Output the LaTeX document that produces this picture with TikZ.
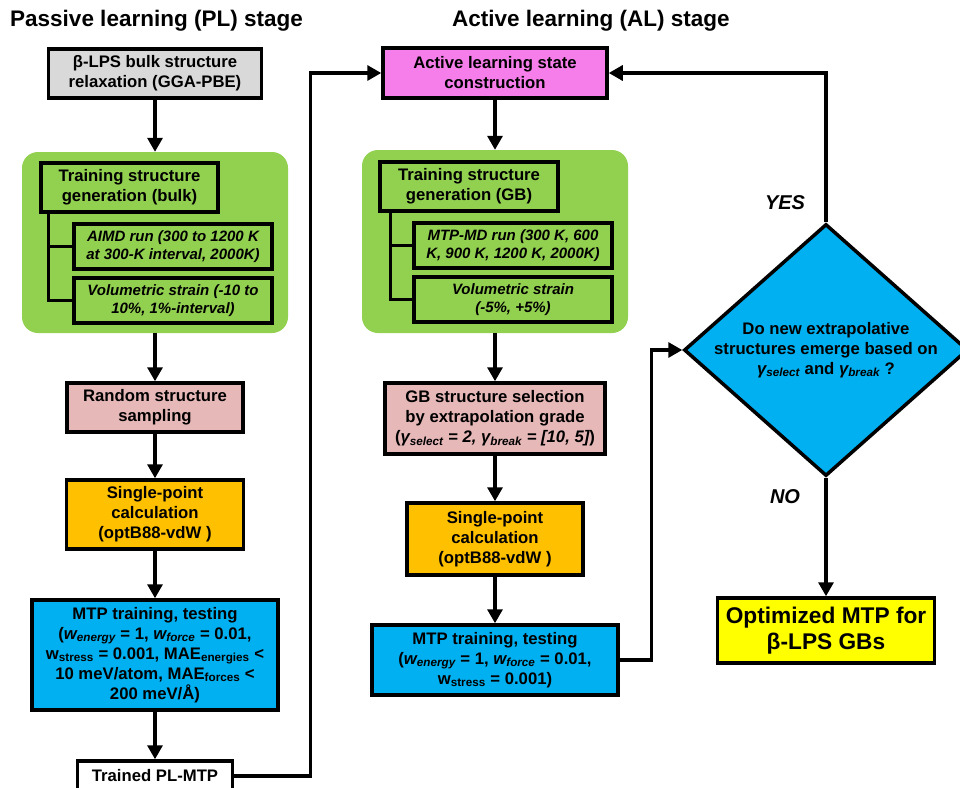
\documentclass[tikz,border=0pt]{standalone}
\usepackage{fontspec}
\setmainfont{Liberation Sans}
\usetikzlibrary{shapes.geometric,arrows.meta}

\definecolor{boxgray}{HTML}{D9D9D9}
\definecolor{boxgreen}{HTML}{92D050}
\definecolor{boxpink}{HTML}{E6B8B7}
\definecolor{boxorange}{HTML}{FFC000}
\definecolor{boxblue}{HTML}{00B0F0}
\definecolor{boxmagenta}{HTML}{F67EEA}
\definecolor{boxyellow}{HTML}{FFFF00}

\tikzset{
    stepbox/.style={draw, line width=3.5pt, align=center, inner sep=0pt, font=\bfseries\fontsize{16.7}{20}\selectfont},
    subbox/.style={draw, line width=3.5pt, align=center, inner sep=0pt, font=\bfseries\itshape\fontsize{15}{18}\selectfont},
    panel/.style={fill=boxgreen, rounded corners=16pt, inner sep=0pt},
    decision/.style={diamond, draw, line width=3.5pt, fill=boxblue, inner sep=0pt},
    stagetitle/.style={anchor=west, inner sep=0pt, font=\bfseries\fontsize{22.5}{26}\selectfont},
    answer/.style={inner sep=0pt, font=\bfseries\itshape\fontsize{20}{24}\selectfont},
    flow/.style={line width=3.2pt, -{Triangle[width=15pt,length=14pt]}},
    link/.style={line width=3.2pt},
}

\begin{document}
\begin{tikzpicture}[x=1pt, y=-1pt]
    \useasboundingbox (0,0) rectangle (960,787);
    \clip (0,0) rectangle (960,787);

    \node[stagetitle] (titlePL) at (10,21) {Passive learning (PL) stage};
    \node[stagetitle] (titleAL) at (452,21) {Active learning (AL) stage};

    \node[stepbox, fill=boxgray, minimum width=213pt, minimum height=49pt] (relax) at (155,73.5)
        {β-LPS bulk structure\\relaxation (GGA-PBE)};
    \node[panel, minimum width=266pt, minimum height=181pt] (panelPL) at (155,242.5) {};
    \node[stepbox, minimum width=177pt, minimum height=49pt] (genPL) at (129.5,187.5)
        {Training structure\\generation (bulk)};
    \node[subbox, minimum width=198pt, minimum height=45pt] (aimdPL) at (173,246.5)
        {AIMD run (300 to 1200 K\\at 300-K interval, 2000K)};
    \node[subbox, minimum width=198pt, minimum height=45pt] (volPL) at (173,300.5)
        {Volumetric strain (-10 to\\10\%, 1\%-interval)};
    \node[stepbox, fill=boxpink, minimum width=176pt, minimum height=49pt] (randPL) at (155,407.5)
        {Random structure\\sampling};
    \node[stepbox, fill=boxorange, minimum width=177pt, minimum height=69pt] (spPL) at (155,514.5)
        {Single-point\\calculation\\(optB88-vdW )};
    \node[stepbox, fill=boxblue, minimum width=246pt, minimum height=110pt] (mtpPL) at (155,655)
        {MTP training, testing\\({\itshape w\textsubscript{energy}} = 1, {\itshape w\textsubscript{force}} = 0.01,\\w\textsubscript{stress} = 0.001, MAE\textsubscript{energies} <\\10 meV/atom, MAE\textsubscript{forces} <\\200 meV/Å)};
    \node[stepbox, fill=white, minimum width=155pt, minimum height=30pt] (trained) at (155,776)
        {Trained PL-MTP};

    \node[stepbox, fill=boxmagenta, minimum width=224pt, minimum height=50pt] (alstate) at (495,73)
        {Active learning state\\construction};
    \node[panel, minimum width=266pt, minimum height=183pt] (panelAL) at (495,241.5) {};
    \node[stepbox, minimum width=178pt, minimum height=49pt] (genAL) at (469,186.5)
        {Training structure\\generation (GB)};
    \node[subbox, minimum width=198pt, minimum height=45pt] (mdAL) at (513,245.5)
        {MTP-MD run (300 K, 600\\K, 900 K, 1200 K, 2000K)};
    \node[subbox, minimum width=198pt, minimum height=45pt] (volAL) at (513,299.5)
        {Volumetric strain\\(-5\%, +5\%)};
    \node[stepbox, fill=boxpink, minimum width=220pt, minimum height=71pt] (selAL) at (495,418.5)
        {GB structure selection\\by extrapolation grade\\({\itshape γ\textsubscript{select} = 2, γ\textsubscript{break} = [10, 5]})};
    \node[stepbox, fill=boxorange, minimum width=176pt, minimum height=72pt] (spAL) at (495,539)
        {Single-point\\calculation\\(optB88-vdW )};
    \node[stepbox, fill=boxblue, minimum width=246pt, minimum height=70pt] (mtpAL) at (495,660)
        {MTP training, testing\\({\itshape w\textsubscript{energy}} = 1, {\itshape w\textsubscript{force}} = 0.01,\\w\textsubscript{stress} = 0.001)};

    \node[decision, minimum width=284pt, minimum height=252pt] (dec) at (826,350) {};
    \node[align=center, inner sep=0pt, font=\bfseries\fontsize{16.7}{20}\selectfont] (dectext) at (dec)
        {Do new extrapolative\\structures emerge based on\\{\itshape γ\textsubscript{select}} and {\itshape γ\textsubscript{break}} ?};
    \node[answer] (yes) at (785,203) {YES};
    \node[answer] (no) at (785,497) {NO};
    \node[stepbox, fill=boxyellow, minimum width=217pt, minimum height=65pt, font=\bfseries\fontsize{22.7}{26}\selectfont] (final) at (826,630.5)
        {Optimized MTP for\\β-LPS GBs};

    \draw[flow] (relax) -- (panelPL);
    \draw[link] ([xshift=9pt]genPL.south west) |- (aimdPL.west);
    \draw[link] ([xshift=9pt]genPL.south west) |- (volPL.west);
    \draw[flow] (panelPL) -- (randPL);
    \draw[flow] (randPL) -- (spPL);
    \draw[flow] (spPL) -- (mtpPL);
    \draw[flow] (mtpPL) -- (trained);
    \draw[flow] (trained.east) -- ++(76,0) |- (alstate.west);

    \draw[flow] (alstate) -- (panelAL);
    \draw[link] ([xshift=12pt]genAL.south west) |- (mdAL.west);
    \draw[link] ([xshift=12pt]genAL.south west) |- (volAL.west);
    \draw[flow] (panelAL) -- (selAL);
    \draw[flow] (selAL) -- (spAL);
    \draw[flow] (spAL) -- (mtpAL);
    \draw[flow] (mtpAL.east) -- ++(32,0) |- (dec.west);
    \draw[flow] (dec.north) |- (alstate.east);
    \draw[flow] (dec.south) -- (final.north);
\end{tikzpicture}
\end{document}
